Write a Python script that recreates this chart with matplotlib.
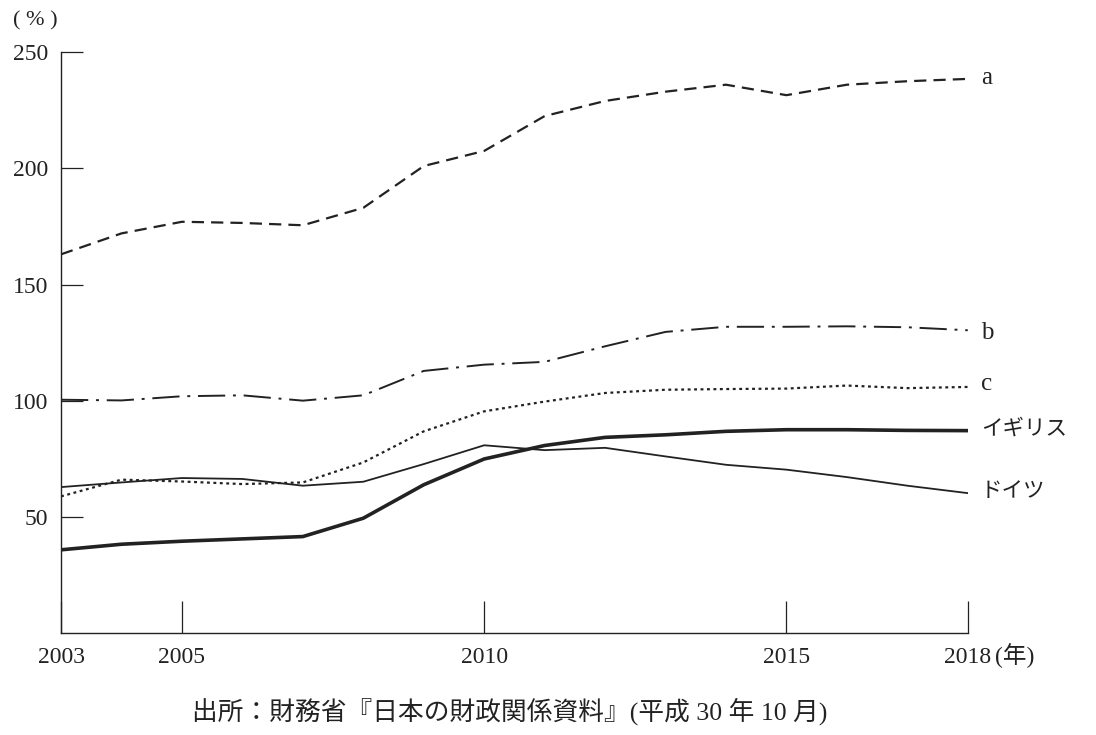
import numpy as np
import matplotlib
matplotlib.use("Agg")
import matplotlib.pyplot as plt

plt.rcParams['font.family'] = ['Liberation Serif', 'Noto Sans CJK JP', 'DejaVu Sans']

years = list(range(2003, 2019))

# debt to GDP (%)
a = [163, 172, 177, 176.5, 175.5, 183, 201, 207.5, 222.5, 229, 233, 236, 231.5, 236, 237.5, 238.5]
b = [100.4, 100.1, 101.9, 102.3, 100, 102.3, 112.8, 115.5, 116.7, 123.4, 129.6, 131.8, 131.8, 132, 131.6, 130.3]
c = [58.8, 66, 65.2, 64.1, 64.8, 73.4, 86.8, 95.4, 99.6, 103.3, 104.7, 105, 105.2, 106.5, 105.4, 105.9]
uk = [35.8, 38.2, 39.5, 40.5, 41.5, 49.4, 63.8, 74.9, 80.7, 84.2, 85.3, 86.8, 87.5, 87.5, 87.2, 87.1]
germany = [62.8, 64.8, 66.7, 66.3, 63.4, 65.1, 72.7, 80.8, 78.7, 79.7, 76, 72.4, 70.3, 67.1, 63.4, 60.2]

labels = ['a', 'b', 'c', 'イギリス', 'ドイツ']

fig = plt.figure(figsize=(10.96, 7.35), dpi=100)
ax = fig.add_axes([0.0557, 0.1388, 0.8273, 0.7902])

col = '#222222'
ax.plot(years, a, color=col, lw=1.6, dashes=(5.5, 3.2))
ax.plot(years, b, color=col, lw=1.4, dashes=(14, 4, 1.5, 4))
ax.plot(years, c, color=col, lw=1.6, dashes=(1.3, 1.6))
ax.plot(years, uk, color=col, lw=2.6)
ax.plot(years, germany, color=col, lw=1.3)

label_y = [239, 129, 107, 87.5, 60.5]
label_size = [18, 18, 18, 15.5, 15.5]
for lab, yv, fs in zip(labels, label_y, label_size):
    ax.text(2018.22, yv, lab, fontsize=fs, va='center', ha='left', color=col)

ax.set_xlim(2003, 2018)
ax.set_ylim(0, 250)
ax.set_xticks([2003, 2005, 2010, 2015, 2018])
ax.set_yticks([50, 100, 150, 200, 250])
ax.tick_params(axis='x', direction='in', length=23, width=0.9, pad=10, labelsize=17, colors=col)
ax.tick_params(axis='y', direction='in', length=16, width=0.9, pad=9, labelsize=17, colors=col)
for s in ['top', 'right']:
    ax.spines[s].set_visible(False)
for s in ['left', 'bottom']:
    ax.spines[s].set_linewidth(1.0)
    ax.spines[s].set_color(col)

fig.text(0.012, 0.972, '( % )', fontsize=16, ha='left', va='center', color=col)
fig.text(0.908, 0.108, '(年)', fontsize=17, ha='left', va='center', color=col)
fig.text(0.465, 0.032, '出所：財務省『日本の財政関係資料』(平成 30 年 10 月)', fontsize=18.5,
         ha='center', va='center', color=col)

fig.savefig('out.png', dpi=100)
